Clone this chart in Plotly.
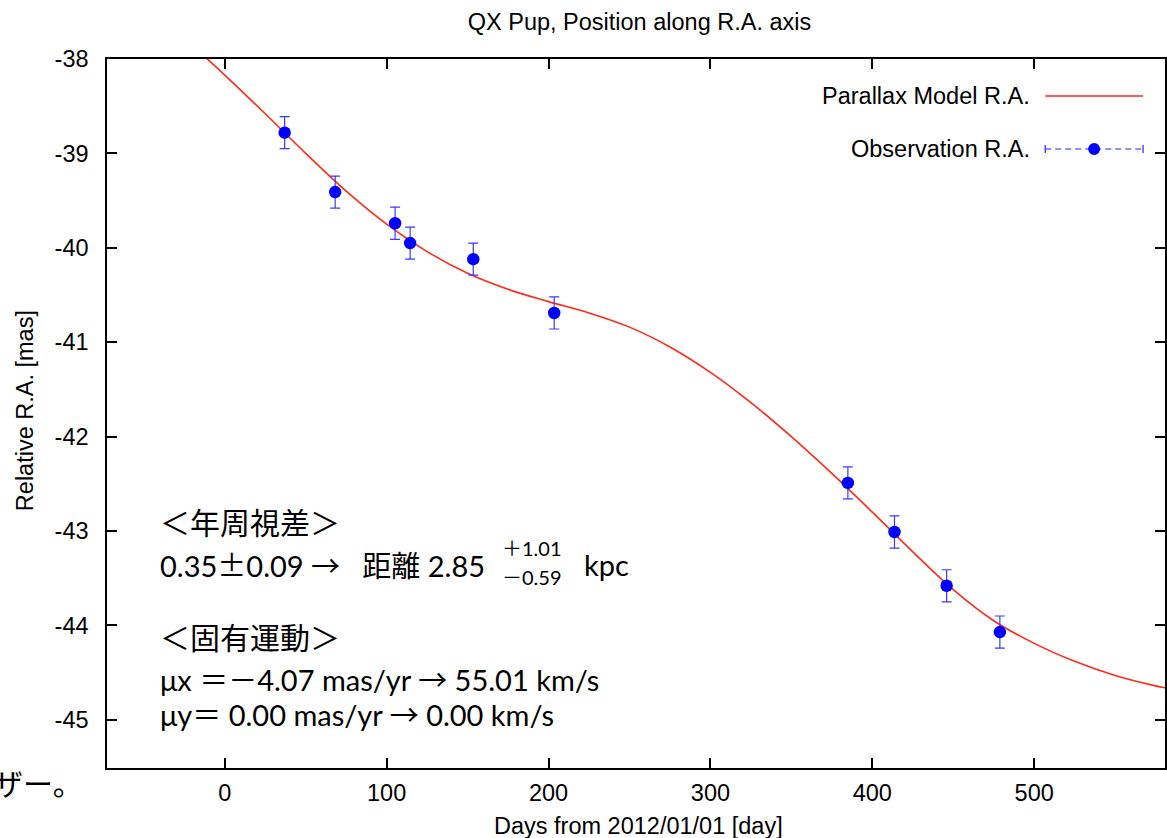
import plotly.graph_objects as go

# Observed positions along R.A. (days from 2012/01/01, relative R.A. in mas)
obs_days = [37.0, 68.2, 105.2, 114.5, 153.5, 203.5, 384.9, 413.7, 445.9, 478.8]
obs_ra = [-38.78, -39.41, -39.74, -39.95, -40.12, -40.69, -42.49, -43.01, -43.58, -44.07]
obs_err = [0.17, 0.17, 0.17, 0.17, 0.17, 0.17, 0.17, 0.17, 0.17, 0.17]

# Fitted parallax model curve, sampled every 25 days
model_days = [-25, 0, 25, 50, 75, 100, 125, 150, 175, 200, 225, 250, 275,
              300, 325, 350, 375, 400, 425, 450, 475, 500, 525, 550, 575, 581]
model_ra = [-37.78, -38.17, -38.58, -39.00, -39.40, -39.75, -40.04, -40.27, -40.44,
            -40.57, -40.69, -40.84, -41.05, -41.32, -41.64, -42.00, -42.39, -42.80,
            -43.22, -43.62, -43.95, -44.19, -44.38, -44.53, -44.64, -44.66]

x_ticks = [0, 100, 200, 300, 400, 500]
y_ticks = [-38, -39, -40, -41, -42, -43, -44, -45]

x_range = [-72.75, 580.8]
y_range = [-45.51, -38.0]

W, H = 1167, 838
ML, MR, MT, MB = 107, 0, 59, 70
PW, PH = W - ML - MR, H - MT - MB


def px_x(px):
    return (px - ML) / PW


def px_y(py):
    return 1 - (py - MT) / PH


GP_FONT = "Liberation Sans, Arial, sans-serif"
GP_SIZE = 23.5
JP_FONT = "Lato, 'Noto Sans CJK JP', sans-serif"
CJK = "font-family:'Noto Sans CJK JP'"

fig = go.Figure()

fig.add_trace(go.Scatter(
    x=model_days, y=model_ra, mode="lines",
    line=dict(color="#ff2a1a", width=1.6, shape="spline", smoothing=1.0),
    name="Parallax Model R.A.", showlegend=False, hoverinfo="skip",
))

fig.add_trace(go.Scatter(
    x=obs_days, y=obs_ra, mode="markers",
    marker=dict(color="#0000ff", size=12.5, line=dict(width=0)),
    error_y=dict(type="data", array=obs_err, visible=True,
                 color="#3a3aff", thickness=1.2, width=5),
    name="Observation R.A.", showlegend=False,
))

axis_common = dict(
    showgrid=False, zeroline=False, showline=True, linecolor="black", linewidth=1.5,
    mirror="ticks", ticks="inside", ticklen=10, tickwidth=1.5, tickcolor="black",
    tickfont=dict(family=GP_FONT, size=GP_SIZE, color="black"),
)

fig.update_xaxes(range=x_range, tickvals=x_ticks, ticktext=[str(v) for v in x_ticks],
                 ticklabelstandoff=3, **axis_common)
fig.update_yaxes(range=y_range, tickvals=y_ticks, ticktext=[str(v) for v in y_ticks],
                 ticklabelstandoff=12, **axis_common)

annotations = []

# axis titles
annotations.append(dict(text="Days from 2012/01/01 [day]", x=px_x(640), y=px_y(826),
                        xref="paper", yref="paper", showarrow=False,
                        xanchor="center", yanchor="middle",
                        font=dict(family=GP_FONT, size=GP_SIZE, color="black")))
annotations.append(dict(text="Relative R.A. [mas]", x=px_x(25), y=px_y(411),
                        xref="paper", yref="paper", showarrow=False, textangle=-90,
                        xanchor="center", yanchor="middle",
                        font=dict(family=GP_FONT, size=GP_SIZE, color="black")))

# key
key_labels = ["Parallax Model R.A.", "Observation R.A."]
key_rows = [96, 149]
for lab, row in zip(key_labels, key_rows):
    annotations.append(dict(text=lab, x=px_x(1034), y=px_y(row), xref="paper", yref="paper",
                            showarrow=False, xanchor="right", yanchor="middle",
                            font=dict(family=GP_FONT, size=GP_SIZE, color="black")))

shapes = [
    dict(type="line", xref="paper", yref="paper", x0=px_x(1047), x1=px_x(1145),
         y0=px_y(96), y1=px_y(96), line=dict(color="#ff2a1a", width=1.6)),
    dict(type="line", xref="paper", yref="paper", x0=px_x(1047), x1=px_x(1145),
         y0=px_y(149), y1=px_y(149), line=dict(color="#2020ff", width=1.2, dash="6px,4px")),
    dict(type="line", xref="paper", yref="paper", x0=px_x(1047), x1=px_x(1047),
         y0=px_y(145), y1=px_y(153), line=dict(color="#2020ff", width=1.2)),
    dict(type="line", xref="paper", yref="paper", x0=px_x(1145), x1=px_x(1145),
         y0=px_y(145), y1=px_y(153), line=dict(color="#2020ff", width=1.2)),
    dict(type="circle", xref="paper", yref="paper", x0=px_x(1090), x1=px_x(1102),
         y0=px_y(155), y1=px_y(143), fillcolor="#0000ff", line=dict(width=0)),
]

# summary text
notes = [
    ("＜年周視差＞", 158, 522, 30),
    (f"0.35<span style=\"{CJK}\">±</span>0.09 <span style=\"{CJK}\">→</span>   距離 2.85", 158, 564, 29),
    ("＋1.01", 501, 548, 20),
    ("－0.59", 501, 577, 20),
    ("kpc", 583, 564, 29),
    ("＜固有運動＞", 158, 637, 30),
    (f"μx ＝－4.07 mas/yr <span style=\"{CJK}\">→</span> 55.01 km/s", 158, 678, 29),
    (f"μy＝ 0.00 mas/yr <span style=\"{CJK}\">→</span> 0.00 km/s", 158, 713, 29),
    ("ザー。", -9, 783, 30),
]
for txt, xl, yc, fs in notes:
    annotations.append(dict(text=txt, x=px_x(xl), y=px_y(yc), xref="paper", yref="paper",
                            showarrow=False, xanchor="left", yanchor="middle",
                            font=dict(family=JP_FONT, size=fs, color="black")))

fig.update_layout(
    width=W, height=H,
    margin=dict(l=ML, r=MR, t=MT, b=MB, pad=0),
    paper_bgcolor="white", plot_bgcolor="white",
    showlegend=False,
    title=dict(text="QX Pup, Position along R.A. axis", x=px_x(640.5), xref="paper",
               y=1 - 22 / H, yref="container", xanchor="center", yanchor="middle",
               font=dict(family=GP_FONT, size=GP_SIZE, color="black")),
    annotations=annotations,
    shapes=shapes,
)

fig.write_html("out.html")
